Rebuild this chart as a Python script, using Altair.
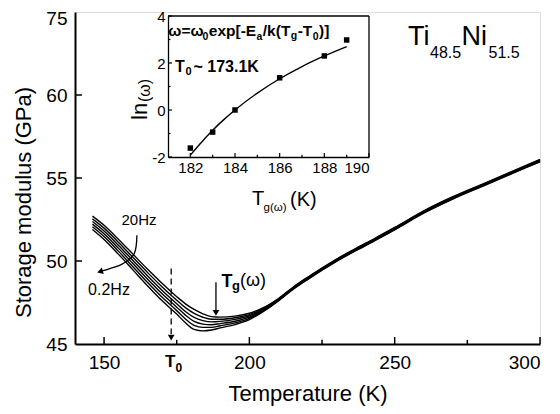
import altair as alt
import pandas as pd

FONT = "Liberation Sans"
W, H = 465, 332
DY = 3  # shift of the plot origin relative to the previous layout

# ---------------- main data ----------------
T_grid = [146, 150, 155, 160, 165, 170, 175, 178, 181, 184, 187, 190, 195, 200, 205,
          210, 215, 220, 230, 240, 250, 260, 270, 280, 290, 300]
freq_labels = ["0.2Hz", "0.4Hz", "1Hz", "4Hz", "10Hz", "20Hz"]
s_0_2Hz = [51.90, 51.30, 50.40, 49.45, 48.50, 47.60, 46.80, 46.28, 45.88, 45.79, 45.84, 45.97, 46.17, 46.47, 46.98,
           47.60, 48.28, 48.88, 49.98, 50.93, 51.88, 52.88, 53.73, 54.48, 55.23, 55.98]
s_0_4Hz = [52.06, 51.47, 50.58, 49.64, 48.70, 47.81, 47.01, 46.51, 46.12, 46.00, 46.00, 46.10, 46.27, 46.55, 47.02,
           47.63, 48.31, 48.91, 50.01, 50.96, 51.91, 52.91, 53.76, 54.51, 55.26, 56.01]
s_1Hz = [52.22, 51.64, 50.76, 49.83, 48.90, 48.02, 47.22, 46.74, 46.36, 46.20, 46.16, 46.23, 46.37, 46.62, 47.07,
         47.66, 48.34, 48.94, 50.04, 50.99, 51.94, 52.94, 53.79, 54.54, 55.29, 56.04]
s_4Hz = [52.38, 51.81, 50.94, 50.02, 49.10, 48.23, 47.43, 46.96, 46.60, 46.41, 46.33, 46.36, 46.48, 46.70, 47.11,
         47.68, 48.36, 48.96, 50.06, 51.01, 51.96, 52.96, 53.81, 54.56, 55.31, 56.06]
s_10Hz = [52.54, 51.98, 51.12, 50.21, 49.30, 48.44, 47.64, 47.19, 46.84, 46.61, 46.49, 46.49, 46.58, 46.77, 47.16,
          47.71, 48.39, 48.99, 50.09, 51.04, 51.99, 52.99, 53.84, 54.59, 55.34, 56.09]
s_20Hz = [52.70, 52.15, 51.30, 50.40, 49.50, 48.65, 47.85, 47.42, 47.08, 46.82, 46.65, 46.62, 46.68, 46.85, 47.20,
          47.74, 48.42, 49.02, 50.12, 51.07, 52.02, 53.02, 53.87, 54.62, 55.37, 56.12]
series = [s_0_2Hz, s_0_4Hz, s_1Hz, s_4Hz, s_10Hz, s_20Hz]

x_tick_values = [150, 200, 250, 300]
x_minor_ticks = [175, 225, 275]
y_tick_values = [45, 50, 55, 60, 65]
y_tick_labels = ["45", "50", "55", "60", "75"]

T0 = 173.1
Tg_arrow_T = 188.5

# ---------------- inset data ----------------
inset_Tg = [182, 183, 184, 186, 188, 189]
inset_lnw = [-1.62, -0.94, 0.0, 1.37, 2.30, 2.98]
fit_T = [182, 182.5, 183, 183.5, 184, 185, 186, 187, 188, 189]
fit_lnw = [-1.92, -1.37, -0.86, -0.41, 0.0, 0.72, 1.33, 1.85, 2.30, 2.70]
inset_x_ticks = [182, 184, 186, 188, 190]
inset_x_minor = [183, 185, 187, 189]
inset_y_ticks = [-2, 0, 2, 4]
inset_y_minor = [-1, 1, 3]

# ---------------- build main ----------------
rows = []
for lab, vals in zip(freq_labels, series):
    for t, g in zip(T_grid, vals):
        rows.append({"T": t, "G": g, "f": lab})
df = pd.DataFrame(rows)

xs = alt.Scale(domain=[140, 300], nice=False, zero=False)
ys = alt.Scale(domain=[45, 65], nice=False, zero=False)

label_expr = " : ".join(
    [f"datum.value == {v} ? '{l}'" for v, l in zip(y_tick_values, y_tick_labels)] + ["datum.label"]
)

curves = alt.Chart(df).mark_line(color="black", strokeWidth=1.4, interpolate="monotone").encode(
    x=alt.X("T:Q", scale=xs, title="Temperature (K)",
            axis=alt.Axis(values=x_tick_values, ticks=False, labelPadding=9, labelFontSize=19,
                          titleFontSize=22, titleFontWeight="normal", titlePadding=11,
                          domainColor="black", domainWidth=2, grid=False, labelColor="black",
                          titleColor="black")),
    y=alt.Y("G:Q", scale=ys, title="Storage modulus (GPa)",
            axis=alt.Axis(values=y_tick_values, labelExpr=label_expr, ticks=False, labelPadding=8,
                          labelOffset={"condition": {"test": "datum.value == 65", "value": 6}, "value": 0},
                          labelFontSize=19, titleFontSize=22, titleFontWeight="normal", titlePadding=10,
                          titleY=190,
                          domainColor="black", domainWidth=2, grid=False, labelColor="black",
                          titleColor="black")),
    detail="f:N",
)

xt = pd.DataFrame({"T": x_tick_values, "G": [45] * 4, "G2": [45.42] * 4})
xt_minor = pd.DataFrame({"T": x_minor_ticks, "G": [45] * 3, "G2": [45.25] * 3})
yt = pd.DataFrame({"T": [140] * 3, "T2": [142.4] * 3, "G": [50, 55, 60]})
ticks_x = alt.Chart(xt).mark_rule(color="black", strokeWidth=1.5).encode(x="T:Q", y="G:Q", y2="G2")
ticks_xm = alt.Chart(xt_minor).mark_rule(color="black", strokeWidth=1.5).encode(x="T:Q", y="G:Q", y2="G2")
ticks_y = alt.Chart(yt).mark_rule(color="black", strokeWidth=1.5).encode(x="T:Q", x2="T2", y="G:Q")

t0_line = alt.Chart(pd.DataFrame({"T": [T0], "G": [49.55], "G2": [45.6]})).mark_rule(
    color="black", strokeWidth=1.3, strokeDash=[6, 4]).encode(x="T:Q", y="G:Q", y2="G2")
t0_head = alt.Chart(pd.DataFrame({"T": [T0], "G": [45.38]})).mark_point(
    shape="triangle-down", filled=True, color="black", size=45, opacity=1).encode(x="T:Q", y="G:Q")

tg_line = alt.Chart(pd.DataFrame({"T": [Tg_arrow_T], "G": [48.72], "G2": [47.0]})).mark_rule(
    color="black", strokeWidth=1.3).encode(x="T:Q", y="G:Q", y2="G2")
tg_head = alt.Chart(pd.DataFrame({"T": [Tg_arrow_T], "G": [46.88]})).mark_point(
    shape="triangle-down", filled=True, color="black", size=45, opacity=1).encode(x="T:Q", y="G:Q")

arc_pts = pd.DataFrame({"T": [161.3, 160.4, 156.5, 152.0, 149.3],
                        "G": [51.55, 50.45, 49.84, 49.54, 49.40],
                        "o": [0, 1, 2, 3, 4]})
arc = alt.Chart(arc_pts).mark_line(color="black", strokeWidth=1.3, interpolate="cardinal").encode(
    x="T:Q", y="G:Q", order="o:Q")
arc_head = alt.Chart(pd.DataFrame({"T": [148.6], "G": [49.36]})).mark_point(
    shape="triangle-left", filled=True, color="black", size=45, opacity=1, angle=343).encode(x="T:Q", y="G:Q")

one = pd.DataFrame({"a": [0]})


def txt(s, x, y, size, bold=False, align="left", baseline="alphabetic", angle=0):
    kw = dict(fontSize=size, fontWeight="bold" if bold else "normal", align=align,
              baseline=baseline, font=FONT, color="black")
    if angle:
        kw["angle"] = angle
    return alt.Chart(one).mark_text(**kw).encode(x=alt.value(x), y=alt.value(y - DY), text=alt.value(s))


main_texts = [
    txt("20Hz", 64, 211, 15, align="center", baseline="middle"),
    txt("0.2Hz", 34, 281, 16, align="center", baseline="middle"),
    txt("T", 146.5, 277.5, 18, bold=True),
    txt("g", 157, 281, 13, bold=True),
    txt("(\u03c9)", 165, 277, 18),
    txt("T", 90, 357.5, 17, bold=True),
    txt("0", 100.5, 362.5, 12, bold=True),
    txt("Ti", 333, 36, 27),
    txt("48.5", 355, 49, 16),
    txt("Ni", 386.5, 36, 27),
    txt("51.5", 413.5, 49, 16),
]

main = alt.layer(curves, ticks_x, ticks_xm, ticks_y, t0_line, t0_head, tg_line, tg_head, arc, arc_head,
                 *main_texts)

# ---------------- inset ----------------
ixs = alt.Scale(domain=[181, 190], range=[93, 294], nice=False, zero=False)
iys = alt.Scale(domain=[-2, 4], range=[148 - DY, 7 - DY], nice=False, zero=False)

ipts = alt.Chart(pd.DataFrame({"tg": inset_Tg, "lw": inset_lnw})).mark_square(
    color="black", size=30, opacity=1).encode(
    x=alt.X("tg:Q", scale=ixs, title=None,
            axis=alt.Axis(orient="bottom", offset=-(H - (148 - DY)), values=inset_x_ticks, ticks=False,
                          labelExpr="datum.value",
                          labelPadding=3, labelFontSize=15, domainColor="black", domainWidth=1.3,
                          grid=False, labelColor="black")),
    y=alt.Y("lw:Q", scale=iys, title=None,
            axis=alt.Axis(orient="left", offset=-93, values=inset_y_ticks, ticks=False,
                          labelExpr="datum.value",
                          labelPadding=3, labelFontSize=15, domainColor="black", domainWidth=1.3,
                          grid=False, labelColor="black")),
)
ifit = alt.Chart(pd.DataFrame({"tg": fit_T, "lw": fit_lnw})).mark_line(
    color="black", strokeWidth=1.4, interpolate="monotone").encode(x="tg:Q", y="lw:Q")

ix_t = alt.Chart(pd.DataFrame({"tg": inset_x_ticks, "lw": [-2] * 5, "lw2": [-1.83] * 5})).mark_rule(
    color="black", strokeWidth=1.2).encode(x="tg:Q", y="lw:Q", y2="lw2")
ix_m = alt.Chart(pd.DataFrame({"tg": inset_x_minor, "lw": [-2] * 4, "lw2": [-1.9] * 4})).mark_rule(
    color="black", strokeWidth=1.2).encode(x="tg:Q", y="lw:Q", y2="lw2")
iy_t = alt.Chart(pd.DataFrame({"tg": [181] * 4, "tg2": [181.18] * 4, "lw": inset_y_ticks})).mark_rule(
    color="black", strokeWidth=1.2).encode(x="tg:Q", x2="tg2", y="lw:Q")
iy_m = alt.Chart(pd.DataFrame({"tg": [181] * 3, "tg2": [181.11] * 3, "lw": inset_y_minor})).mark_rule(
    color="black", strokeWidth=1.2).encode(x="tg:Q", x2="tg2", y="lw:Q")
ibox_top = alt.Chart(pd.DataFrame({"tg": [181], "tg2": [190], "lw": [4]})).mark_rule(
    color="black", strokeWidth=1.3).encode(x="tg:Q", x2="tg2", y="lw:Q")
ibox_right = alt.Chart(pd.DataFrame({"tg": [190], "lw": [-2], "lw2": [4]})).mark_rule(
    color="black", strokeWidth=1.3).encode(x="tg:Q", y="lw:Q", y2="lw2")

inset_texts = [
    # equation
    txt("\u03c9=\u03c9", 93.3, 27, 15.5, bold=True),
    txt("0", 127.5, 30.5, 10.5, bold=True),
    txt("exp[-E", 133.8, 27, 15.5, bold=True),
    txt("a", 181.5, 30.5, 10.5, bold=True),
    txt("/k(T", 187.8, 27, 15.5, bold=True),
    txt("g", 215.8, 30, 10.5, bold=True),
    txt("-T", 222.7, 27, 15.5, bold=True),
    txt("0", 237.7, 30.5, 10.5, bold=True),
    txt(")]", 244, 27, 15.5, bold=True),
    # T0 value
    txt("T", 100, 62.5, 16, bold=True),
    txt("0", 110.5, 66, 11, bold=True),
    txt("~ 173.1K", 118.5, 62.5, 16, bold=True),
    # inset axis titles
    txt("T", 177, 196, 20),
    txt("g(\u03c9)", 188.5, 202, 11.5),
    txt("(K)", 215, 197, 20),
    txt("ln", 72, 111, 22, angle=270),
    txt("(\u03c9)", 75, 93, 16, angle=270),
]

inset = alt.layer(ipts, ifit, ix_t, ix_m, iy_t, iy_m, ibox_top, ibox_right, *inset_texts)

chart = alt.layer(main, inset).resolve_scale(x="independent", y="independent").properties(
    width=W, height=H,
    autosize=alt.AutoSizeParams(type="none"),
    padding={"left": 67, "top": 4, "right": 12, "bottom": 62},
).configure_view(stroke="black", strokeWidth=2).configure_axis(
    labelFont=FONT, titleFont=FONT
).configure(background="white")

chart.save("out.html", embed_options={"renderer": "svg", "actions": False})
